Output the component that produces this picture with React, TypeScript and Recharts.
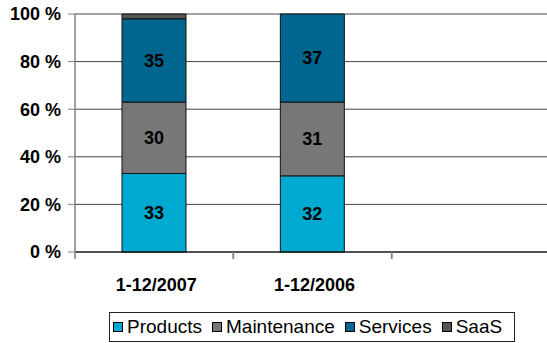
import React from "react";
import {
  BarChart,
  Bar,
  XAxis,
  YAxis,
  CartesianGrid,
  Legend,
  LabelList,
} from "recharts";

const periods = ["1-12/2007", "1-12/2006", ""];
const products = [33, 32];
const maintenance = [30, 31];
const services = [35, 37];
const saas = [2, 0];
const yTicks = [0, 20, 40, 60, 80, 100];

const series = [
  { key: "Products", color: "#00A9CF", values: products, label: true },
  { key: "Maintenance", color: "#777777", values: maintenance, label: true },
  { key: "Services", color: "#00668F", values: services, label: true },
  { key: "SaaS", color: "#555555", values: saas, label: false },
];

const data = periods.map((p, i) => {
  const row: any = { name: p };
  series.forEach((s) => {
    row[s.key] = s.values[i];
  });
  return row;
});

const font = "'Liberation Sans', Arial, sans-serif";

// category label plus the small tick marks at the slot edges
const PeriodTick = (props: any) => {
  const { x, y, payload } = props;
  const half = payload.offset || 0;
  return (
    <g>
      <line x1={x - half} x2={x - half} y1={y - 2} y2={y + 5} stroke="#808080" strokeWidth={1.5} />
      <line x1={x + half} x2={x + half} y1={y - 2} y2={y + 5} stroke="#808080" strokeWidth={1.5} />
      <text
        x={x + 2}
        y={y}
        dy={37}
        textAnchor="middle"
        fontFamily={font}
        fontWeight="bold"
        fontSize={18}
        fill="#000"
      >
        {payload.value}
      </text>
    </g>
  );
};

const LegendBox = () => (
  <div
    style={{
      marginLeft: 109,
      width: 406,
      height: 30,
      border: "1px solid #222",
      boxSizing: "border-box",
      display: "flex",
      alignItems: "center",
      paddingLeft: 3,
      fontFamily: font,
      fontSize: 19,
      color: "#000",
      background: "#fff",
      whiteSpace: "nowrap",
    }}
  >
    {series.map((s, i) => (
      <span
        key={s.key}
        style={{
          display: "inline-flex",
          alignItems: "center",
          marginRight: i < series.length - 1 ? 10 : 0,
        }}
      >
        <span
          style={{
            display: "inline-block",
            width: 8,
            height: 8,
            background: s.color,
            border: "1px solid #000",
            marginRight: 4,
          }}
        />
        {s.key}
      </span>
    ))}
  </div>
);

export default function App() {
  return (
    <div
      style={{
        position: "fixed",
        left: 0,
        top: 0,
        width: 547,
        height: 343,
        overflow: "hidden",
        background: "#fff",
      }}
    >
      <BarChart
        width={550}
        height={343}
        data={data}
        margin={{ top: 14, right: 0, left: 0, bottom: 1 }}
      >
        <CartesianGrid vertical={false} stroke="#444" />
        <XAxis
          dataKey="name"
          height={60}
          axisLine={{ stroke: "#000" }}
          tickLine={false}
          tickSize={0}
          tickMargin={2}
          tick={<PeriodTick />}
          interval={0}
        />
        <YAxis
          width={75}
          domain={[0, 100]}
          ticks={yTicks}
          tickFormatter={(v: number) => `${v} %`}
          tickSize={7}
          tickMargin={7}
          axisLine={{ stroke: "#808080", strokeWidth: 1.5 }}
          tickLine={{ stroke: "#808080" }}
          tick={{
            fill: "#000",
            fontSize: 18,
            fontWeight: "bold",
            fontFamily: font,
          }}
        />
        <Legend verticalAlign="bottom" content={<LegendBox />} />
        {series.map((s) => (
          <Bar
            key={s.key}
            dataKey={s.key}
            stackId="a"
            fill={s.color}
            stroke="#111"
            strokeWidth={1}
            barSize={64}
            isAnimationActive={false}
          >
            {s.label && (
              <LabelList
                dataKey={s.key}
                position="center"
                fill="#000"
                fontSize={18}
                fontWeight="bold"
                fontFamily={font}
              />
            )}
          </Bar>
        ))}
      </BarChart>
    </div>
  );
}
